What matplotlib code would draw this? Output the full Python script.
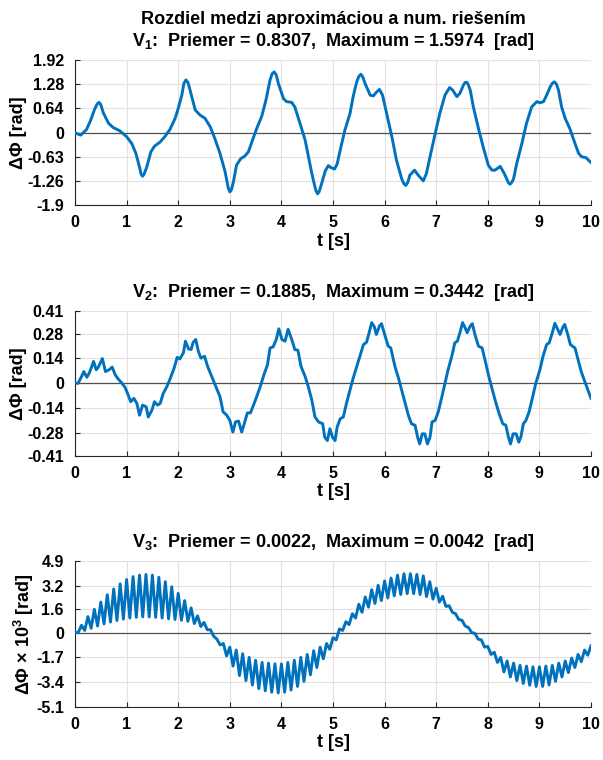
import matplotlib
matplotlib.use('Agg')
import matplotlib.pyplot as plt
import numpy as np

plt.rcParams['font.family'] = ['Liberation Sans', 'DejaVu Sans']
plt.rcParams['font.weight'] = 'bold'
plt.rcParams['mathtext.fontset'] = 'custom'
plt.rcParams['mathtext.rm'] = 'Liberation Sans:bold'
plt.rcParams['mathtext.bf'] = 'Liberation Sans:bold'
plt.rcParams['mathtext.it'] = 'Liberation Sans:bold'

# --- V1: cas [s] a rozdiel [rad] ---
t1 = [0.00, 0.11, 0.22, 0.30, 0.38, 0.43, 0.465, 0.50, 0.55, 0.65,
      0.74, 0.87, 1.00, 1.10, 1.18, 1.25, 1.28, 1.31, 1.34, 1.39,
      1.47, 1.54, 1.65, 1.74, 1.84, 1.94, 2.00, 2.07, 2.11, 2.15,
      2.19, 2.23, 2.33, 2.42, 2.52, 2.62, 2.71, 2.81, 2.91, 2.97,
      3.00, 3.03, 3.07, 3.13, 3.21, 3.29, 3.36, 3.44, 3.52, 3.62,
      3.70, 3.78, 3.82, 3.86, 3.90, 3.94, 4.04, 4.10, 4.20, 4.26,
      4.36, 4.46, 4.52, 4.59, 4.65, 4.67, 4.70, 4.73, 4.78, 4.85,
      4.91, 4.97, 5.03, 5.08, 5.14, 5.23, 5.33, 5.39, 5.46, 5.50,
      5.54, 5.58, 5.62, 5.72, 5.78, 5.85, 5.90, 5.96, 6.04, 6.14,
      6.23, 6.33, 6.37, 6.41, 6.45, 6.49, 6.58, 6.65, 6.75, 6.81,
      6.88, 6.98, 7.07, 7.17, 7.26, 7.32, 7.40, 7.46, 7.53, 7.56,
      7.59, 7.62, 7.66, 7.72, 7.82, 7.91, 8.01, 8.08, 8.14, 8.24,
      8.32, 8.40, 8.43, 8.47, 8.50, 8.56, 8.66, 8.75, 8.85, 8.95,
      9.01, 9.08, 9.14, 9.21, 9.25, 9.29, 9.33, 9.37, 9.43, 9.50,
      9.59, 9.69, 9.76, 9.82, 9.90, 10.0]
v1 = [0.00, -0.06, 0.08, 0.32, 0.62, 0.76, 0.80, 0.74, 0.52, 0.25,
      0.14, 0.05, -0.10, -0.28, -0.54, -0.90, -1.08, -1.14, -1.08, -0.90,
      -0.50, -0.35, -0.24, -0.10, 0.09, 0.38, 0.64, 0.99, 1.30, 1.39,
      1.32, 1.12, 0.60, 0.47, 0.38, 0.16, -0.15, -0.54, -1.03, -1.45,
      -1.55, -1.50, -1.29, -0.85, -0.68, -0.61, -0.50, -0.19, 0.11, 0.44,
      0.86, 1.39, 1.55, 1.60, 1.52, 1.30, 0.90, 0.82, 0.80, 0.68,
      0.25, -0.19, -0.59, -1.07, -1.42, -1.52, -1.60, -1.55, -1.33, -1.00,
      -0.86, -0.92, -0.95, -0.82, -0.45, 0.07, 0.51, 0.95, 1.34, 1.48,
      1.54, 1.46, 1.30, 0.99, 0.97, 1.08, 1.14, 0.99, 0.51, -0.10,
      -0.72, -1.20, -1.33, -1.38, -1.30, -1.11, -0.98, -1.11, -1.26, -1.07,
      -0.63, -0.02, 0.51, 0.99, 1.19, 1.12, 0.95, 1.04, 1.26, 1.32,
      1.33, 1.27, 1.12, 0.68, 0.11, -0.37, -0.85, -0.98, -0.98, -0.88,
      -1.07, -1.31, -1.35, -1.29, -1.20, -0.81, -0.28, 0.25, 0.68, 0.82,
      0.79, 0.82, 0.99, 1.21, 1.30, 1.34, 1.28, 1.12, 0.68, 0.38,
      0.11, -0.28, -0.54, -0.63, -0.65, -0.78]

# --- V2 ---
t2 = [0.00, 0.06, 0.13, 0.17, 0.23, 0.28, 0.36, 0.41, 0.45, 0.53,
      0.59, 0.66, 0.72, 0.78, 0.84, 0.90, 0.97, 1.03, 1.08, 1.14,
      1.20, 1.25, 1.31, 1.38, 1.42, 1.49, 1.54, 1.60, 1.65, 1.71,
      1.78, 1.84, 1.92, 1.98, 2.03, 2.10, 2.14, 2.20, 2.25, 2.29,
      2.34, 2.39, 2.44, 2.51, 2.57, 2.65, 2.73, 2.81, 2.87, 2.94,
      3.00, 3.06, 3.11, 3.17, 3.23, 3.28, 3.34, 3.40, 3.46, 3.52,
      3.59, 3.66, 3.73, 3.78, 3.84, 3.90, 3.95, 4.01, 4.07, 4.13,
      4.20, 4.26, 4.32, 4.38, 4.46, 4.52, 4.59, 4.65, 4.72, 4.80,
      4.84, 4.89, 4.94, 4.99, 5.04, 5.08, 5.14, 5.20, 5.26, 5.33,
      5.39, 5.47, 5.54, 5.59, 5.65, 5.70, 5.75, 5.80, 5.84, 5.90,
      5.94, 6.01, 6.07, 6.12, 6.20, 6.27, 6.33, 6.39, 6.46, 6.52,
      6.59, 6.64, 6.68, 6.73, 6.78, 6.83, 6.88, 6.92, 6.98, 7.04,
      7.11, 7.17, 7.23, 7.31, 7.36, 7.41, 7.46, 7.51, 7.56, 7.60,
      7.66, 7.70, 7.75, 7.82, 7.89, 7.96, 8.02, 8.09, 8.15, 8.22,
      8.29, 8.35, 8.40, 8.44, 8.49, 8.55, 8.60, 8.64, 8.69, 8.74,
      8.80, 8.87, 8.93, 9.01, 9.07, 9.14, 9.19, 9.25, 9.30, 9.35,
      9.40, 9.45, 9.49, 9.55, 9.60, 9.69, 9.75, 9.81, 9.88, 9.94,
      10.0]
v2 = [0.000, 0.000, 0.040, 0.066, 0.034, 0.060, 0.123, 0.076, 0.090, 0.139,
      0.066, 0.076, 0.091, 0.047, 0.023, 0.004, -0.023, -0.066, -0.104, -0.085,
      -0.114, -0.180, -0.123, -0.133, -0.190, -0.152, -0.104, -0.123, -0.114, -0.057,
      -0.019, 0.023, 0.085, 0.146, 0.137, 0.171, 0.237, 0.194, 0.190, 0.231,
      0.247, 0.180, 0.142, 0.152, 0.095, 0.038, -0.019, -0.076, -0.161, -0.180,
      -0.209, -0.275, -0.218, -0.213, -0.275, -0.228, -0.167, -0.167, -0.123, -0.076,
      -0.019, 0.047, 0.104, 0.199, 0.205, 0.247, 0.307, 0.247, 0.237, 0.304,
      0.247, 0.190, 0.186, 0.095, 0.038, -0.019, -0.095, -0.190, -0.218, -0.228,
      -0.304, -0.323, -0.256, -0.304, -0.323, -0.247, -0.200, -0.190, -0.114, -0.038,
      0.028, 0.104, 0.171, 0.218, 0.231, 0.285, 0.342, 0.319, 0.275, 0.323,
      0.336, 0.266, 0.209, 0.199, 0.095, 0.028, -0.038, -0.104, -0.180, -0.228,
      -0.237, -0.304, -0.342, -0.285, -0.285, -0.342, -0.304, -0.218, -0.209, -0.161,
      -0.076, 0.000, 0.076, 0.161, 0.228, 0.237, 0.285, 0.342, 0.313, 0.285,
      0.323, 0.336, 0.275, 0.209, 0.199, 0.114, 0.038, -0.038, -0.104, -0.171,
      -0.228, -0.237, -0.304, -0.342, -0.285, -0.285, -0.332, -0.304, -0.228, -0.209,
      -0.161, -0.076, 0.000, 0.076, 0.152, 0.218, 0.228, 0.285, 0.338, 0.307,
      0.275, 0.313, 0.332, 0.275, 0.218, 0.199, 0.133, 0.066, 0.009, -0.038,
      -0.085]

# --- V3 (x 10^3): lokalne maxima a minima zvlnenia, kazdy riadok = 1 s ---
v3_peaks = [0.5, 1.1, 1.6, 2.1, 2.6, 3.0, 3.35, 3.65,
            3.85, 3.95, 4.0, 3.95, 3.8, 3.5, 3.15, 2.7,
            2.2, 1.7, 1.15, 0.7, 0.2, -0.45, -0.75, -1.0,
            -1.2, -1.45, -1.7, -1.9, -2.05, -2.1, -2.15, -2.15,
            -2.05, -1.9, -1.7, -1.5, -1.25, -1.0, -0.75, -0.35,
            0.25, 0.75, 1.3, 1.95, 2.45, 2.95, 3.25, 3.55,
            3.75, 3.95, 4.05, 4.05, 4.0, 3.9, 3.5, 3.05,
            2.5, 1.85, 1.3, 0.85, 0.35, -0.05, -0.5, -0.95,
            -1.35, -1.7, -1.95, -2.1, -2.25, -2.3, -2.35, -2.35,
            -2.3, -2.25, -2.1, -1.95, -1.75, -1.5, -1.2, -0.9]
v3_troughs = [0.0, 0.15, 0.3, 0.45, 0.6, 0.72, 0.83, 0.93,
              1.0, 1.05, 1.08, 1.08, 1.05, 1.0, 0.95, 0.9,
              0.85, 0.78, 0.62, 0.42, 0.2, -0.25, -0.85, -1.6,
              -2.3, -2.95, -3.3, -3.6, -3.85, -4.0, -4.1, -4.15,
              -4.1, -3.95, -3.7, -3.35, -2.9, -2.4, -1.8, -1.15,
              -0.5, 0.15, 0.55, 1.0, 1.4, 1.75, 2.0, 2.2,
              2.38, 2.52, 2.62, 2.68, 2.68, 2.62, 2.48, 2.3,
              2.1, 1.8, 1.4, 0.9, 0.45, 0.0, -0.45, -1.0,
              -1.5, -2.05, -2.7, -3.05, -3.3, -3.5, -3.62, -3.7,
              -3.7, -3.6, -3.35, -3.05, -2.75, -2.4, -2.0, -1.55]
ripple_period = 0.125

titles = [
    'Rozdiel medzi aproximáciou a num. riešením\n'
    r'$\mathbf{V_1}$:  Priemer = 0.8307,  Maximum = 1.5974  [rad]',
    r'$\mathbf{V_2}$:  Priemer = 0.1885,  Maximum = 0.3442  [rad]',
    r'$\mathbf{V_3}$:  Priemer = 0.0022,  Maximum = 0.0042  [rad]',
]
ylabels = ['ΔΦ [rad]', 'ΔΦ [rad]', r'ΔΦ $\times$ 10$^{3}$ [rad]']
yticks = [
    [-1.9, -1.26, -0.63, 0, 0.64, 1.28, 1.92],
    [-0.41, -0.28, -0.14, 0, 0.14, 0.28, 0.41],
    [-5.1, -3.4, -1.7, 0, 1.6, 3.2, 4.9],
]
yticklabels = [
    ['-1.9', '-1.26', '-0.63', '0', '0.64', '1.28', '1.92'],
    ['-0.41', '-0.28', '-0.14', '0', '0.14', '0.28', '0.41'],
    ['-5.1', '-3.4', '-1.7', '0', '1.6', '3.2', '4.9'],
]

# zlozenie V3 zo striedajucich sa extremov
n = len(v3_peaks)
t3 = [0.0]
v3 = [0.0]
for k in range(n):
    t3 += [(k + 0.5) * ripple_period, (k + 1) * ripple_period]
    v3 += [v3_troughs[k], v3_peaks[k]]

series = [(t1, v1), (t2, v2), (t3, v3)]

fig = plt.figure(figsize=(6.03, 7.6), dpi=100)
bottoms = [0.730, 0.400, 0.070]
line_color = '#0072BD'
dark = '#262626'

for i, (t, v) in enumerate(series):
    ax = fig.add_axes([0.1244, bottoms[i], 0.8557, 0.1914])
    ax.plot(t, v, color=line_color, lw=2.1, zorder=3)
    ax.axhline(0, color='#505050', lw=0.9, zorder=2)
    ax.set_xlim(0, 10)
    ax.set_ylim(yticks[i][0], yticks[i][-1])
    ax.set_xticks(range(0, 11))
    ax.set_yticks(yticks[i])
    ax.set_yticklabels(yticklabels[i])
    ax.grid(True, color='#e1e1e1', lw=0.8)
    ax.set_axisbelow(True)
    for s in ['top', 'right']:
        ax.spines[s].set_visible(False)
    for s in ['left', 'bottom']:
        ax.spines[s].set_color(dark)
        ax.spines[s].set_linewidth(0.8)
    ax.tick_params(direction='in', length=3.5, width=0.8, colors=dark,
                   labelsize=11.5, labelcolor='black')
    ax.tick_params(axis='y', pad=8)
    ax.tick_params(axis='x', pad=7)
    ax.set_xlabel('t [s]', fontsize=13, fontweight='bold', labelpad=2)
    ax.set_ylabel(ylabels[i], fontsize=13, fontweight='bold', labelpad=0)
    ax.set_title(titles[i], fontsize=13, fontweight='bold', pad=10,
                 linespacing=1.2)

plt.savefig('out.png', dpi=100)
plt.close()
